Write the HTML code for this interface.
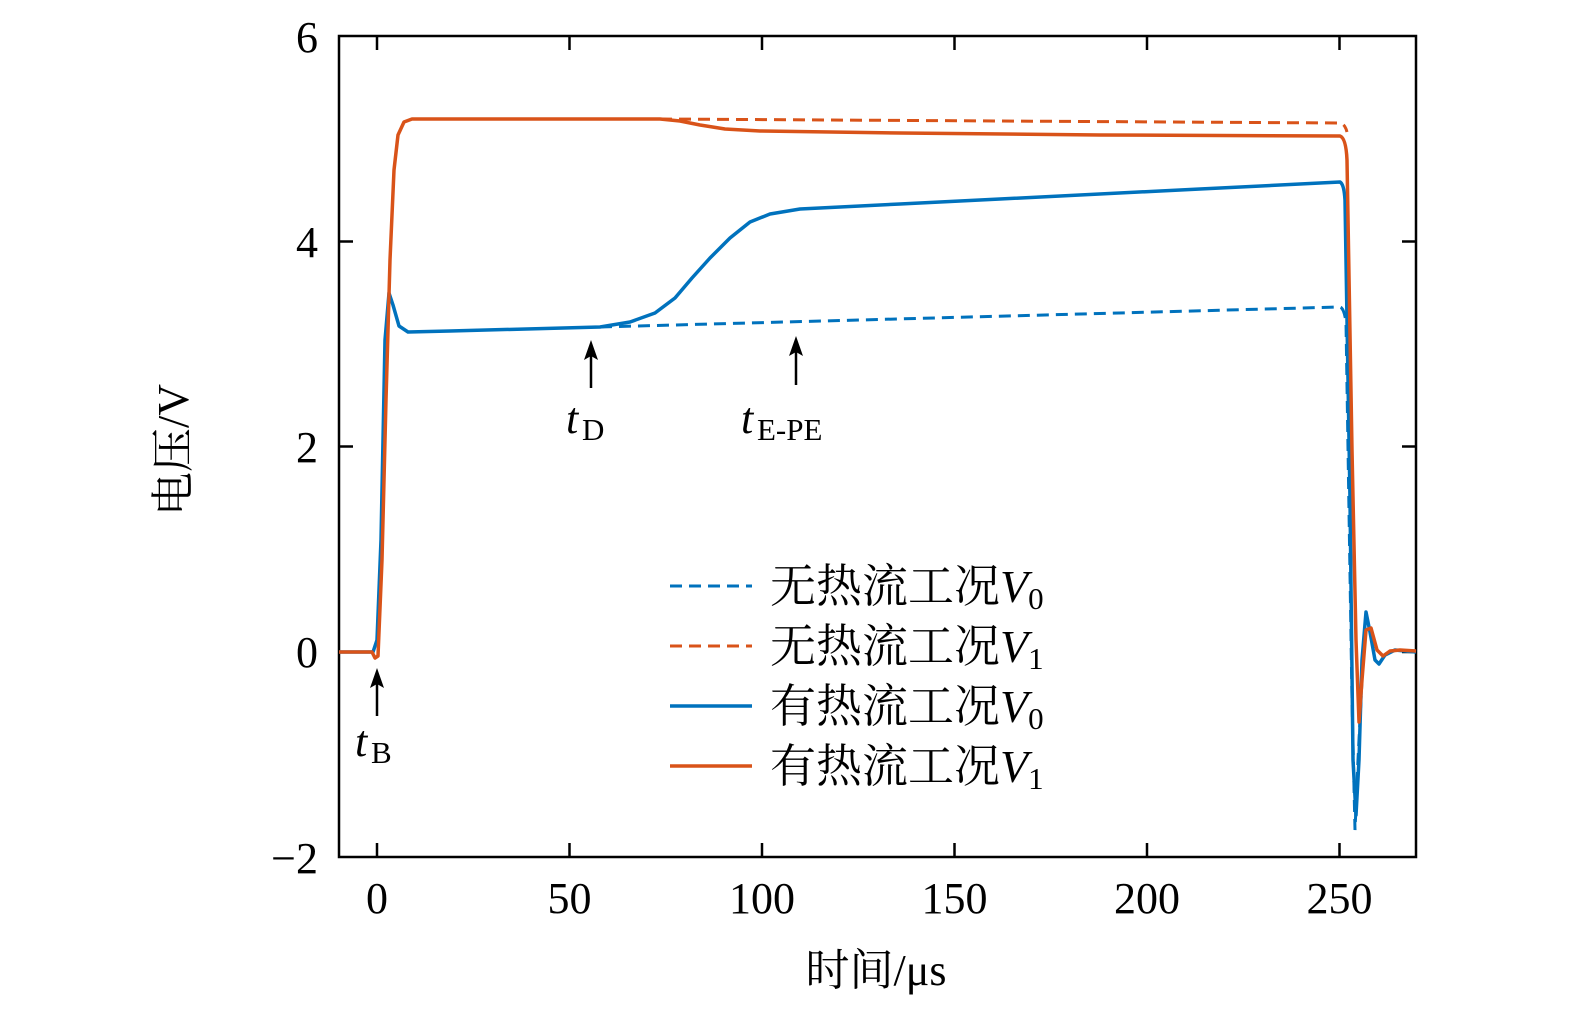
<!DOCTYPE html>
<html><head><meta charset="utf-8"><style>
html,body{margin:0;padding:0;background:#fff;}
svg text{font-family:"Liberation Serif","Noto Serif CJK SC",serif;fill:#000;}
</style></head><body>
<svg width="1575" height="1014" viewBox="0 0 1575 1014" xmlns="http://www.w3.org/2000/svg">
<rect width="1575" height="1014" fill="#fff"/>
<rect x="339" y="36" width="1077" height="821" fill="none" stroke="#000" stroke-width="2.5"/>
<g stroke="#000" stroke-width="2.5">
<line x1="339" y1="241.5" x2="353" y2="241.5"/><line x1="1416" y1="241.5" x2="1402" y2="241.5"/>
<line x1="339" y1="446.5" x2="353" y2="446.5"/><line x1="1416" y1="446.5" x2="1402" y2="446.5"/>
<line x1="339" y1="652" x2="353" y2="652"/><line x1="1416" y1="652" x2="1402" y2="652"/>
<line x1="377" y1="857" x2="377" y2="843"/><line x1="377" y1="36" x2="377" y2="50"/>
<line x1="569.5" y1="857" x2="569.5" y2="843"/><line x1="569.5" y1="36" x2="569.5" y2="50"/>
<line x1="762" y1="857" x2="762" y2="843"/><line x1="762" y1="36" x2="762" y2="50"/>
<line x1="954.5" y1="857" x2="954.5" y2="843"/><line x1="954.5" y1="36" x2="954.5" y2="50"/>
<line x1="1147" y1="857" x2="1147" y2="843"/><line x1="1147" y1="36" x2="1147" y2="50"/>
<line x1="1339.5" y1="857" x2="1339.5" y2="843"/><line x1="1339.5" y1="36" x2="1339.5" y2="50"/>
</g>
<g font-size="44" text-anchor="end">
<text x="318" y="52">6</text><text x="318" y="257">4</text><text x="318" y="462">2</text><text x="318" y="667">0</text><text x="318" y="873">−2</text>
</g>
<g font-size="44" text-anchor="middle">
<text x="377" y="913">0</text><text x="569.5" y="913">50</text><text x="762" y="913">100</text><text x="954.5" y="913">150</text><text x="1147" y="913">200</text><text x="1339.5" y="913">250</text>
</g>
<text x="876" y="985" font-size="44" text-anchor="middle">时间/μs</text>
<text transform="translate(188,450) rotate(-90)" font-size="44" text-anchor="middle">电压/V</text>

<path d="M660,119 L1340,123 Q1345,124 1347,132" fill="none" stroke="#d95319" stroke-width="3" stroke-dasharray="12,7"/>
<path d="M600,327 L1340,307 Q1344,308 1346,322 L1352,700 L1355,830 L1358,760 L1362,680" fill="none" stroke="#0072bd" stroke-width="3" stroke-dasharray="12,7"/>
<path d="M339,652 L373,652 L377,640 L381,540 L385,340 L389,293 L393,305 L399,326 L408,332 L450,331 L600,327 L630,322 L655,313 L675,298 L692,278 L710,258 L730,238 L750,222 L770,214 L800,209 L900,204 L1000,199 L1200,189 L1340,182 Q1344,184 1345,200 L1350,500 L1353,760 L1356,815 L1359,760 L1362,660 L1366,612 L1370,632 L1375,660 L1379,664 L1385,655 L1395,650 L1416,652" fill="none" stroke="#0072bd" stroke-width="3.5" stroke-linejoin="round"/>
<path d="M339,652 L372,652 L375,658 L378,656 L382,560 L386,400 L390,260 L394,170 L398,135 L404,122 L412,119 L660,119 L680,121 L700,125 L725,129 L760,131 L900,133 L1100,135 L1340,136 Q1346,138 1347,160 L1352,450 L1356,640 L1359,722 L1362,680 L1366,630 L1371,628 L1377,650 L1383,656 L1390,651 L1400,650 L1416,651" fill="none" stroke="#d95319" stroke-width="3.5" stroke-linejoin="round"/>

<g stroke="#000" stroke-width="2.5"><line x1="377" y1="680" x2="377" y2="716"/><line x1="591" y1="352" x2="591" y2="388"/><line x1="796" y1="348" x2="796" y2="385"/></g>
<g fill="#000"><path d="M377,668 L370,688 L377,684 L384,688Z"/><path d="M591,340 L584,360 L591,356 L598,360Z"/><path d="M796,336 L789,356 L796,352 L803,356Z"/></g>
<text x="355" y="756" font-size="44" font-style="italic">t</text><text x="371" y="763" font-size="31">B</text>
<text x="566" y="433" font-size="44" font-style="italic">t</text><text x="582" y="440" font-size="31">D</text>
<text x="741" y="433" font-size="44" font-style="italic">t</text><text x="757" y="440" font-size="31">E-PE</text>

<line x1="670" y1="586" x2="752" y2="586" stroke="#0072bd" stroke-width="3" stroke-dasharray="12,7"/>
<line x1="670" y1="646" x2="752" y2="646" stroke="#d95319" stroke-width="3" stroke-dasharray="12,7"/>
<line x1="670" y1="706" x2="752" y2="706" stroke="#0072bd" stroke-width="3.5"/>
<line x1="670" y1="766" x2="752" y2="766" stroke="#d95319" stroke-width="3.5"/>
<g font-size="46">
<text x="770" y="602">无热流工况<tspan font-style="italic">V</tspan><tspan font-size="31" dy="7">0</tspan></text>
<text x="770" y="662">无热流工况<tspan font-style="italic">V</tspan><tspan font-size="31" dy="7">1</tspan></text>
<text x="770" y="722">有热流工况<tspan font-style="italic">V</tspan><tspan font-size="31" dy="7">0</tspan></text>
<text x="770" y="782">有热流工况<tspan font-style="italic">V</tspan><tspan font-size="31" dy="7">1</tspan></text>
</g>
</svg>
</body></html>
